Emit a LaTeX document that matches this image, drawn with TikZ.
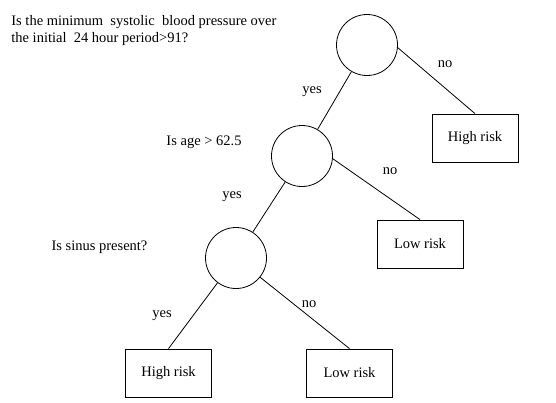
\documentclass[tikz,border=0pt]{standalone}
\usepackage{fontspec}
\setmainfont{Liberation Serif}
\usetikzlibrary{positioning}
\tikzset{font=\fontsize{14.5}{17}\selectfont}

\begin{document}
\begin{tikzpicture}[x=1pt, y=-1pt, line width=0.8pt]
	\useasboundingbox (0, 0) rectangle (556, 402);
	\begin{scope}
		\tikzstyle{every node}=[align=center, inner sep=1pt]
		\tikzstyle{test}=[draw, circle, minimum size=61pt, inner sep=0pt]
		\tikzstyle{risk}=[draw, rectangle, minimum width=86pt, minimum height=48pt]
		\node[test] (c1) at (367, 45) {};
		\node[test] (c2) at (302, 156) {};
		\node[test] (c3) at (236, 258) {};
		\node[risk] (h1) at (475, 138) {High risk};
		\node[risk] (l1) at (420, 244) {Low risk};
		\node[risk] (h2) at (168.5, 373) {High risk};
		\node[risk] (l2) at (349.5, 373) {Low risk};

		\node[align=left, anchor=west] (q1) at (10, 30.5) {Is the minimum\ \ systolic\ \ blood pressure over\\the initial\ \ 24 hour period>91?};
		\node (q2) at (204, 142) {Is age > 62.5};
		\node (q3) at (99.5, 247) {Is sinus present?};

		\node (y1) at (312, 92) {yes};
		\node (n1) at (445, 64) {no};
		\node (y2) at (232, 197) {yes};
		\node (n2) at (390, 171) {no};
		\node (y3) at (162, 316) {yes};
		\node (n3) at (309, 304) {no};

		\draw (c1) -- (c2);
		\draw (c1.-5) -- (h1.north);
		\draw (c2) -- (c3);
		\draw (c2.-5) -- (l1.north);
		\draw (c3) -- (h2.north);
		\draw (c3) -- (l2.north);
	\end{scope}
\end{tikzpicture}
\end{document}
